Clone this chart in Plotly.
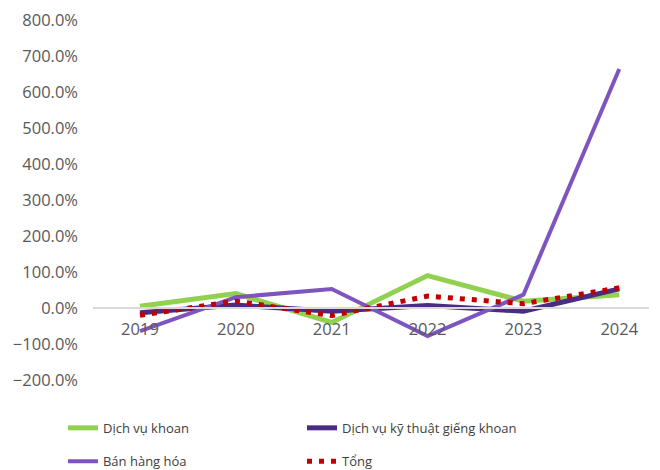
import plotly.graph_objects as go

years = ["2019", "2020", "2021", "2022", "2023", "2024"]
dich_vu_khoan = [5, 40, -40, 90, 19, 37]
dich_vu_ky_thuat = [-13, 8, -9, 7, -9, 53]
ban_hang_hoa = [-64, 30, 53, -78, 37, 664]
tong = [-20, 19, -21, 33, 12, 56]

names = ["Dịch vụ khoan", "Dịch vụ kỹ thuật giếng khoan", "Bán hàng hóa", "Tổng"]
colors = ["#92D050", "#4B2C84", "#7E55BE", "#C00000"]

FONT = "Open Sans"
fig = go.Figure()
fig.add_trace(go.Scatter(x=years, y=dich_vu_khoan, name=names[0], mode="lines",
                         line=dict(color=colors[0], width=5), legend="legend"))
fig.add_trace(go.Scatter(x=years, y=dich_vu_ky_thuat, name=names[1], mode="lines",
                         line=dict(color=colors[1], width=5), legend="legend"))
fig.add_trace(go.Scatter(x=years, y=ban_hang_hoa, name=names[2], mode="lines",
                         line=dict(color=colors[2], width=4), legend="legend2"))
fig.add_trace(go.Scatter(x=years, y=tong, name=names[3], mode="lines",
                         line=dict(color=colors[3], width=5, dash="5px,7px"), legend="legend2"))

leg_common = dict(orientation="h", xanchor="left", yanchor="middle",
                  font=dict(family=FONT, size=13, color="#404040"),
                  entrywidth=194, entrywidthmode="pixels", bgcolor="rgba(0,0,0,0)")

fig.update_layout(
    width=660, height=470,
    margin=dict(l=85, r=19, t=12, b=98, autoexpand=False),
    paper_bgcolor="white", plot_bgcolor="white",
    font=dict(family=FONT, size=17, color="#595959"),
    xaxis=dict(type="category", range=[-0.49, 5.31], showgrid=False, zeroline=False,
               showline=True, linecolor="#D9D9D9", linewidth=2,
               anchor="free", position=0.2, ticks="outside", ticklen=6,
               tickcolor="rgba(0,0,0,0)", tickfont=dict(family=FONT, size=16.5, color="#595959")),
    yaxis=dict(range=[-200, 800], dtick=100, tickformat=".1f", ticksuffix="%",
               showgrid=False, zeroline=False, showline=False, domain=[0, 1],
               ticklabeloverflow="allow",
               ticklabelstandoff=14, tickfont=dict(family=FONT, size=16.5, color="#595959")),
    legend=dict(x=-0.054, y=-0.133, **leg_common),
    legend2=dict(x=-0.054, y=-0.226, **leg_common),
)

fig.write_html("out.html")
